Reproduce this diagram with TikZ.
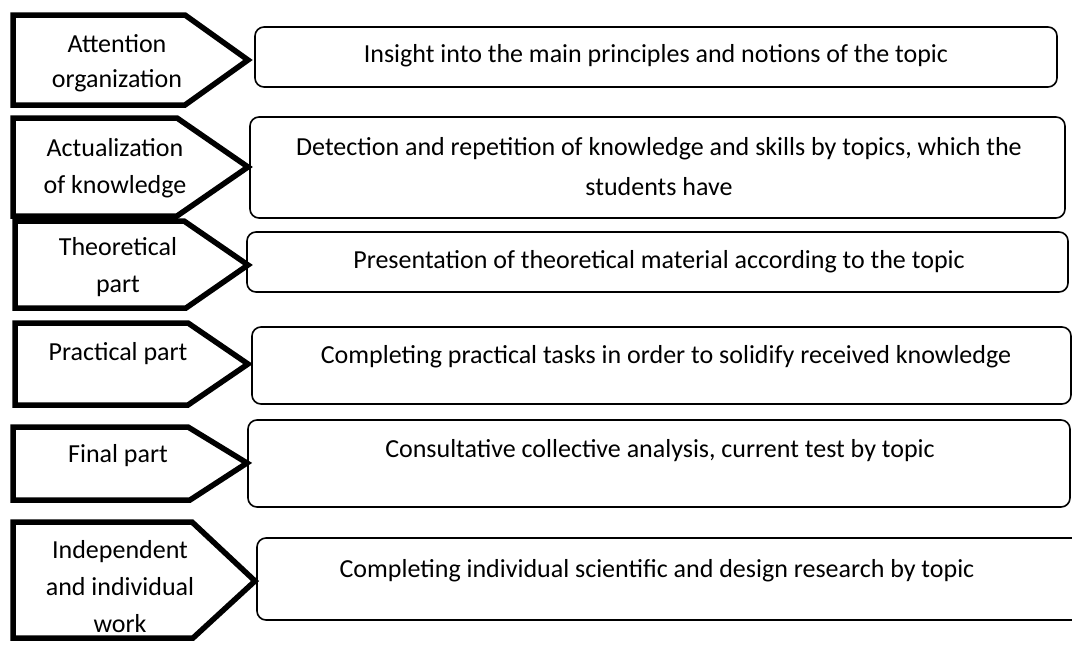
\documentclass[tikz,border=0pt]{standalone}
\usepackage{fontspec}
\setmainfont{Carlito}
\begin{document}
\begin{tikzpicture}[x=1pt,y=-1pt,
  chev/.style={draw, line width=5.5pt, line join=miter, miter limit=10},
  stepbox/.style={draw, line width=1.6pt, rounded corners=9pt},
  lbl/.style={font=\fontsize{26}{37}\selectfont, align=center, inner sep=0pt, anchor=base},
  txt/.style={font=\fontsize{26}{40}\selectfont, align=center, inner sep=0pt, anchor=base}]
\useasboundingbox (0,0) rectangle (1072,645);
\clip (0,0) rectangle (1072,645);
% left arrows
\draw[chev] (13,15) -- (185,15) -- (248,60) -- (185,105) -- (13,105) -- cycle;
\draw[chev] (13,118) -- (177,118) -- (248,167) -- (177,216) -- (13,216) -- cycle;
\draw[chev] (15,221) -- (184,221) -- (248,265) -- (186,308) -- (15,308) -- cycle;
\draw[chev] (15,323) -- (188,323) -- (248,364) -- (188,405) -- (15,405) -- cycle;
\draw[chev] (13,427) -- (188,427) -- (247,463) -- (190,500) -- (13,500) -- cycle;
\draw[chev] (13,522) -- (192,522) -- (255,581) -- (193,638) -- (13,638) -- cycle;
% multi-line nodes: anchor=base is the baseline of the last line
\node[lbl, font=\fontsize{26}{35}\selectfont] (l1) at (117,87) {Attention\\organization};
\node[lbl] (l2) at (115,193) {Actualization\\of knowledge};
\node[lbl] (l3) at (118,292) {Theoretical\\part};
\node[lbl] (l4) at (118,360) {Practical part};
\node[lbl] (l5) at (118,462) {Final part};
\node[lbl] (l6) at (120,632) {Independent\\and individual\\work};
% right boxes
\draw[stepbox] (255,27) rectangle (1057,87);
\draw[stepbox] (250,117) rectangle (1065,218);
\draw[stepbox] (247,232) rectangle (1068,292);
\draw[stepbox] (252,327) rectangle (1071,404);
\draw[stepbox] (248,420) rectangle (1070,507);
\draw[stepbox] (257,538) rectangle (1090,620);
\node[txt] (t1) at (656,62) {Insight into the main principles and notions of the topic};
\node[txt] (t2) at (659,195) {Detection and repetition of knowledge and skills by topics, which the\\students have};
\node[txt] (t3) at (659,268) {Presentation of theoretical material according to the topic};
\node[txt] (t4) at (666,363) {Completing practical tasks in order to solidify received knowledge};
\node[txt] (t5) at (660,457) {Consultative collective analysis, current test by topic};
\node[txt] (t6) at (657,577) {Completing individual scientific and design research by topic};
\end{tikzpicture}
\end{document}
